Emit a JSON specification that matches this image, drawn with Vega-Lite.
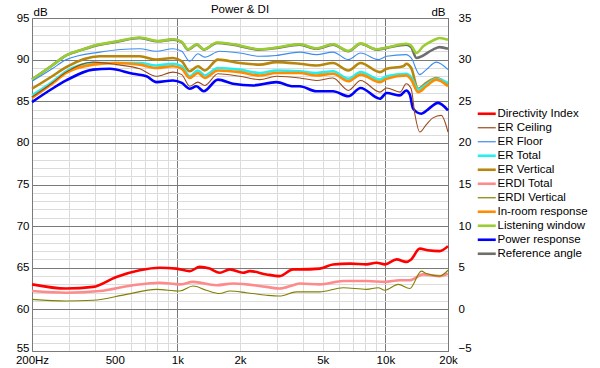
{
  "$schema": "https://vega.github.io/schema/vega-lite/v6.json",
  "autosize": "none",
  "width": 416,
  "height": 333,
  "padding": {"left": 32, "top": 18, "right": 152, "bottom": 17},
  "background": "white",
  "title": {"text": "Power & DI", "fontSize": 11.5, "fontWeight": "normal", "font": "Liberation Sans", "color": "#000", "offset": -9, "anchor": "middle"},
  "config": {
    "view": {"stroke": "#7a7a7a"},
    "axis": {"labelFont": "Liberation Sans", "labelFontSize": 11.5, "labelColor": "#000", "ticks": false, "domainColor": "#7a7a7a", "titleFont": "Liberation Sans", "titleFontSize": 11.5, "titleFontWeight": "normal", "titleColor": "#000"}
  },
  "datasets": {
    "spl": [
      {"s":"Reference angle","f":200,"v":87.6},{"s":"Reference angle","f":250,"v":89.3},{"s":"Reference angle","f":292,"v":90.5},{"s":"Reference angle","f":350,"v":91.2},{"s":"Reference angle","f":423,"v":91.8},{"s":"Reference angle","f":500,"v":92.1},{"s":"Reference angle","f":659,"v":92.6},{"s":"Reference angle","f":807,"v":92.2},{"s":"Reference angle","f":952,"v":92.4},{"s":"Reference angle","f":1050,"v":92.1},{"s":"Reference angle","f":1124,"v":91.2},{"s":"Reference angle","f":1240,"v":91.8},{"s":"Reference angle","f":1340,"v":91.2},{"s":"Reference angle","f":1550,"v":92.0},{"s":"Reference angle","f":1850,"v":91.8},{"s":"Reference angle","f":2490,"v":91.2},{"s":"Reference angle","f":2990,"v":91.4},{"s":"Reference angle","f":3870,"v":91.8},{"s":"Reference angle","f":4660,"v":91.3},{"s":"Reference angle","f":5600,"v":91.8},{"s":"Reference angle","f":6640,"v":91.0},{"s":"Reference angle","f":7600,"v":91.9},{"s":"Reference angle","f":9060,"v":91.2},{"s":"Reference angle","f":10140,"v":91.4},{"s":"Reference angle","f":12600,"v":91.8},{"s":"Reference angle","f":13300,"v":91.5},{"s":"Reference angle","f":14100,"v":90.2},{"s":"Reference angle","f":16930,"v":91.2},{"s":"Reference angle","f":18230,"v":91.5},{"s":"Reference angle","f":20000,"v":91.3},
      {"s":"Listening window","f":200,"v":87.6},{"s":"Listening window","f":250,"v":89.3},{"s":"Listening window","f":292,"v":90.5},{"s":"Listening window","f":350,"v":91.22},{"s":"Listening window","f":423,"v":91.84},{"s":"Listening window","f":500,"v":92.14},{"s":"Listening window","f":659,"v":92.65},{"s":"Listening window","f":807,"v":92.24},{"s":"Listening window","f":952,"v":92.45},{"s":"Listening window","f":1050,"v":92.14},{"s":"Listening window","f":1124,"v":91.24},{"s":"Listening window","f":1240,"v":91.85},{"s":"Listening window","f":1340,"v":91.24},{"s":"Listening window","f":1550,"v":92.05},{"s":"Listening window","f":1850,"v":91.85},{"s":"Listening window","f":2490,"v":91.24},{"s":"Listening window","f":2990,"v":91.45},{"s":"Listening window","f":3870,"v":91.85},{"s":"Listening window","f":4660,"v":91.35},{"s":"Listening window","f":5600,"v":91.85},{"s":"Listening window","f":6640,"v":91.05},{"s":"Listening window","f":7600,"v":91.95},{"s":"Listening window","f":9060,"v":91.25},{"s":"Listening window","f":10140,"v":91.45},{"s":"Listening window","f":12600,"v":91.9},{"s":"Listening window","f":13300,"v":91.7},{"s":"Listening window","f":14100,"v":90.8},{"s":"Listening window","f":15200,"v":91.6},{"s":"Listening window","f":16930,"v":92.3},{"s":"Listening window","f":18230,"v":92.6},{"s":"Listening window","f":20000,"v":92.4},
      {"s":"ER Floor","f":200,"v":87.4},{"s":"ER Floor","f":250,"v":88.9},{"s":"ER Floor","f":292,"v":90.0},{"s":"ER Floor","f":423,"v":90.9},{"s":"ER Floor","f":659,"v":91.3},{"s":"ER Floor","f":792,"v":91.0},{"s":"ER Floor","f":952,"v":91.3},{"s":"ER Floor","f":1050,"v":91.0},{"s":"ER Floor","f":1146,"v":89.8},{"s":"ER Floor","f":1256,"v":90.7},{"s":"ER Floor","f":1353,"v":90.3},{"s":"ER Floor","f":1597,"v":91.0},{"s":"ER Floor","f":1993,"v":90.8},{"s":"ER Floor","f":2490,"v":90.4},{"s":"ER Floor","f":2990,"v":90.5},{"s":"ER Floor","f":3870,"v":90.9},{"s":"ER Floor","f":4660,"v":90.6},{"s":"ER Floor","f":5600,"v":90.9},{"s":"ER Floor","f":6640,"v":90.0},{"s":"ER Floor","f":7600,"v":90.8},{"s":"ER Floor","f":9230,"v":90.0},{"s":"ER Floor","f":10140,"v":90.4},{"s":"ER Floor","f":12600,"v":90.6},{"s":"ER Floor","f":13300,"v":90.2},{"s":"ER Floor","f":14630,"v":88.2},{"s":"ER Floor","f":15730,"v":88.8},{"s":"ER Floor","f":17570,"v":89.7},{"s":"ER Floor","f":20000,"v":88.8},
      {"s":"ER Vertical","f":200,"v":86.5},{"s":"ER Vertical","f":250,"v":88.0},{"s":"ER Vertical","f":292,"v":89.1},{"s":"ER Vertical","f":423,"v":90.4},{"s":"ER Vertical","f":659,"v":90.4},{"s":"ER Vertical","f":792,"v":90.0},{"s":"ER Vertical","f":952,"v":90.2},{"s":"ER Vertical","f":1050,"v":89.8},{"s":"ER Vertical","f":1146,"v":88.6},{"s":"ER Vertical","f":1256,"v":89.2},{"s":"ER Vertical","f":1353,"v":88.7},{"s":"ER Vertical","f":1567,"v":90.0},{"s":"ER Vertical","f":1993,"v":89.6},{"s":"ER Vertical","f":2490,"v":89.4},{"s":"ER Vertical","f":2990,"v":89.7},{"s":"ER Vertical","f":3870,"v":89.5},{"s":"ER Vertical","f":4660,"v":89.3},{"s":"ER Vertical","f":5600,"v":89.6},{"s":"ER Vertical","f":6640,"v":88.7},{"s":"ER Vertical","f":7600,"v":89.6},{"s":"ER Vertical","f":9410,"v":88.5},{"s":"ER Vertical","f":10140,"v":88.9},{"s":"ER Vertical","f":12200,"v":89.2},{"s":"ER Vertical","f":12600,"v":89.5},{"s":"ER Vertical","f":13300,"v":89.0},{"s":"ER Vertical","f":14370,"v":86.5},{"s":"ER Vertical","f":15730,"v":87.2},{"s":"ER Vertical","f":17570,"v":87.8},{"s":"ER Vertical","f":18560,"v":87.6},{"s":"ER Vertical","f":20000,"v":86.9},
      {"s":"ER Total","f":200,"v":85.7},{"s":"ER Total","f":250,"v":87.3},{"s":"ER Total","f":292,"v":88.6},{"s":"ER Total","f":393,"v":89.6},{"s":"ER Total","f":659,"v":89.6},{"s":"ER Total","f":792,"v":89.3},{"s":"ER Total","f":952,"v":89.5},{"s":"ER Total","f":1050,"v":89.2},{"s":"ER Total","f":1146,"v":88.0},{"s":"ER Total","f":1256,"v":88.7},{"s":"ER Total","f":1353,"v":88.1},{"s":"ER Total","f":1567,"v":89.0},{"s":"ER Total","f":1993,"v":88.8},{"s":"ER Total","f":2490,"v":88.4},{"s":"ER Total","f":2990,"v":88.7},{"s":"ER Total","f":3870,"v":88.6},{"s":"ER Total","f":4660,"v":88.4},{"s":"ER Total","f":5600,"v":88.6},{"s":"ER Total","f":6640,"v":87.7},{"s":"ER Total","f":7600,"v":88.5},{"s":"ER Total","f":9410,"v":87.6},{"s":"ER Total","f":10140,"v":88.0},{"s":"ER Total","f":12600,"v":88.3},{"s":"ER Total","f":13300,"v":87.9},{"s":"ER Total","f":14370,"v":86.4},{"s":"ER Total","f":15730,"v":87.0},{"s":"ER Total","f":17570,"v":87.7},{"s":"ER Total","f":20000,"v":87.2},
      {"s":"In-room response","f":200,"v":85.4},{"s":"In-room response","f":250,"v":87.1},{"s":"In-room response","f":292,"v":88.4},{"s":"In-room response","f":393,"v":89.4},{"s":"In-room response","f":510,"v":89.6},{"s":"In-room response","f":659,"v":89.4},{"s":"In-room response","f":792,"v":89.0},{"s":"In-room response","f":952,"v":89.2},{"s":"In-room response","f":1050,"v":88.9},{"s":"In-room response","f":1146,"v":87.8},{"s":"In-room response","f":1256,"v":88.4},{"s":"In-room response","f":1353,"v":87.8},{"s":"In-room response","f":1567,"v":88.7},{"s":"In-room response","f":1993,"v":88.5},{"s":"In-room response","f":2490,"v":88.1},{"s":"In-room response","f":2990,"v":88.4},{"s":"In-room response","f":3870,"v":88.4},{"s":"In-room response","f":4660,"v":88.1},{"s":"In-room response","f":5600,"v":88.3},{"s":"In-room response","f":6640,"v":87.4},{"s":"In-room response","f":7600,"v":88.2},{"s":"In-room response","f":9410,"v":87.3},{"s":"In-room response","f":10140,"v":87.7},{"s":"In-room response","f":12600,"v":88.1},{"s":"In-room response","f":13300,"v":87.6},{"s":"In-room response","f":14370,"v":86.1},{"s":"In-room response","f":15730,"v":86.8},{"s":"In-room response","f":17570,"v":87.6},{"s":"In-room response","f":20000,"v":86.8},
      {"s":"ER Ceiling","f":200,"v":85.5},{"s":"ER Ceiling","f":250,"v":87.2},{"s":"ER Ceiling","f":292,"v":88.5},{"s":"ER Ceiling","f":393,"v":89.7},{"s":"ER Ceiling","f":509,"v":89.4},{"s":"ER Ceiling","f":659,"v":88.9},{"s":"ER Ceiling","f":792,"v":88.0},{"s":"ER Ceiling","f":952,"v":88.5},{"s":"ER Ceiling","f":1050,"v":88.2},{"s":"ER Ceiling","f":1146,"v":86.8},{"s":"ER Ceiling","f":1256,"v":87.3},{"s":"ER Ceiling","f":1353,"v":86.9},{"s":"ER Ceiling","f":1567,"v":88.3},{"s":"ER Ceiling","f":1993,"v":88.0},{"s":"ER Ceiling","f":2490,"v":87.6},{"s":"ER Ceiling","f":2990,"v":88.0},{"s":"ER Ceiling","f":3870,"v":87.8},{"s":"ER Ceiling","f":4660,"v":87.5},{"s":"ER Ceiling","f":5600,"v":87.8},{"s":"ER Ceiling","f":6640,"v":86.3},{"s":"ER Ceiling","f":7600,"v":87.5},{"s":"ER Ceiling","f":9410,"v":86.1},{"s":"ER Ceiling","f":10140,"v":86.6},{"s":"ER Ceiling","f":11760,"v":86.1},{"s":"ER Ceiling","f":12600,"v":87.1},{"s":"ER Ceiling","f":13300,"v":86.5},{"s":"ER Ceiling","f":13850,"v":83.5},{"s":"ER Ceiling","f":14630,"v":81.3},{"s":"ER Ceiling","f":15730,"v":82.2},{"s":"ER Ceiling","f":16930,"v":83.0},{"s":"ER Ceiling","f":18560,"v":83.3},{"s":"ER Ceiling","f":20000,"v":81.3},
      {"s":"Power response","f":200,"v":84.9},{"s":"Power response","f":250,"v":86.5},{"s":"Power response","f":292,"v":87.5},{"s":"Power response","f":393,"v":88.8},{"s":"Power response","f":473,"v":88.9},{"s":"Power response","f":612,"v":88.3},{"s":"Power response","f":710,"v":88.0},{"s":"Power response","f":792,"v":87.3},{"s":"Power response","f":952,"v":87.5},{"s":"Power response","f":1050,"v":87.2},{"s":"Power response","f":1146,"v":86.5},{"s":"Power response","f":1234,"v":86.8},{"s":"Power response","f":1338,"v":86.2},{"s":"Power response","f":1567,"v":87.6},{"s":"Power response","f":1850,"v":87.1},{"s":"Power response","f":2310,"v":86.9},{"s":"Power response","f":2990,"v":87.3},{"s":"Power response","f":3600,"v":86.8},{"s":"Power response","f":3870,"v":86.8},{"s":"Power response","f":4660,"v":86.2},{"s":"Power response","f":5600,"v":86.2},{"s":"Power response","f":6640,"v":85.6},{"s":"Power response","f":7600,"v":86.6},{"s":"Power response","f":9410,"v":85.3},{"s":"Power response","f":10140,"v":86.0},{"s":"Power response","f":11760,"v":85.7},{"s":"Power response","f":12600,"v":86.3},{"s":"Power response","f":13100,"v":85.8},{"s":"Power response","f":13600,"v":84.1},{"s":"Power response","f":14900,"v":83.5},{"s":"Power response","f":16000,"v":84.0},{"s":"Power response","f":17900,"v":84.8},{"s":"Power response","f":20000,"v":83.9}
    ],
    "di": [
      {"s":"Directivity Index","f":200,"v":3.0},{"s":"Directivity Index","f":292,"v":2.5},{"s":"Directivity Index","f":393,"v":2.7},{"s":"Directivity Index","f":509,"v":3.9},{"s":"Directivity Index","f":659,"v":4.7},{"s":"Directivity Index","f":822,"v":5.0},{"s":"Directivity Index","f":989,"v":4.9},{"s":"Directivity Index","f":1146,"v":4.6},{"s":"Directivity Index","f":1280,"v":5.1},{"s":"Directivity Index","f":1430,"v":4.9},{"s":"Directivity Index","f":1597,"v":4.4},{"s":"Directivity Index","f":1785,"v":4.8},{"s":"Directivity Index","f":2067,"v":4.4},{"s":"Directivity Index","f":2227,"v":4.6},{"s":"Directivity Index","f":2678,"v":4.2},{"s":"Directivity Index","f":3104,"v":4.0},{"s":"Directivity Index","f":3600,"v":4.8},{"s":"Directivity Index","f":3874,"v":4.8},{"s":"Directivity Index","f":4835,"v":4.9},{"s":"Directivity Index","f":5600,"v":5.4},{"s":"Directivity Index","f":6770,"v":5.5},{"s":"Directivity Index","f":8120,"v":5.4},{"s":"Directivity Index","f":9060,"v":5.6},{"s":"Directivity Index","f":9950,"v":5.4},{"s":"Directivity Index","f":11330,"v":6.0},{"s":"Directivity Index","f":12600,"v":5.7},{"s":"Directivity Index","f":13300,"v":6.0},{"s":"Directivity Index","f":14630,"v":7.3},{"s":"Directivity Index","f":16000,"v":7.1},{"s":"Directivity Index","f":18230,"v":7.0},{"s":"Directivity Index","f":20000,"v":7.6},
      {"s":"ERDI Total","f":200,"v":2.2},{"s":"ERDI Total","f":292,"v":2.0},{"s":"ERDI Total","f":423,"v":2.2},{"s":"ERDI Total","f":612,"v":2.9},{"s":"ERDI Total","f":822,"v":3.2},{"s":"ERDI Total","f":1026,"v":3.0},{"s":"ERDI Total","f":1189,"v":3.3},{"s":"ERDI Total","f":1540,"v":2.9},{"s":"ERDI Total","f":1850,"v":3.1},{"s":"ERDI Total","f":2678,"v":2.7},{"s":"ERDI Total","f":3104,"v":2.5},{"s":"ERDI Total","f":3600,"v":2.9},{"s":"ERDI Total","f":3874,"v":3.1},{"s":"ERDI Total","f":4835,"v":3.0},{"s":"ERDI Total","f":6270,"v":3.4},{"s":"ERDI Total","f":8120,"v":3.4},{"s":"ERDI Total","f":9950,"v":3.3},{"s":"ERDI Total","f":11760,"v":3.5},{"s":"ERDI Total","f":13100,"v":3.5},{"s":"ERDI Total","f":15160,"v":4.2},{"s":"ERDI Total","f":18230,"v":4.0},{"s":"ERDI Total","f":20000,"v":4.3},
      {"s":"ERDI Vertical","f":200,"v":1.2},{"s":"ERDI Vertical","f":292,"v":1.0},{"s":"ERDI Vertical","f":393,"v":1.1},{"s":"ERDI Vertical","f":569,"v":1.8},{"s":"ERDI Vertical","f":792,"v":2.4},{"s":"ERDI Vertical","f":1026,"v":2.2},{"s":"ERDI Vertical","f":1189,"v":2.8},{"s":"ERDI Vertical","f":1378,"v":2.3},{"s":"ERDI Vertical","f":1597,"v":1.9},{"s":"ERDI Vertical","f":1785,"v":2.2},{"s":"ERDI Vertical","f":2146,"v":2.0},{"s":"ERDI Vertical","f":2678,"v":1.7},{"s":"ERDI Vertical","f":3104,"v":1.6},{"s":"ERDI Vertical","f":3733,"v":2.1},{"s":"ERDI Vertical","f":4835,"v":2.1},{"s":"ERDI Vertical","f":6270,"v":2.6},{"s":"ERDI Vertical","f":8120,"v":2.4},{"s":"ERDI Vertical","f":9230,"v":2.6},{"s":"ERDI Vertical","f":9950,"v":2.3},{"s":"ERDI Vertical","f":11540,"v":3.0},{"s":"ERDI Vertical","f":13100,"v":2.5},{"s":"ERDI Vertical","f":14900,"v":4.6},{"s":"ERDI Vertical","f":15730,"v":4.3},{"s":"ERDI Vertical","f":18230,"v":4.0},{"s":"ERDI Vertical","f":20000,"v":4.7}
    ]
  },
  "encoding": {
    "x": {
      "field": "f", "type": "quantitative",
      "scale": {"type": "log", "domain": [200, 20000], "nice": false},
      "axis": {
        "title": null,
        "values": [200, 300, 400, 500, 600, 700, 800, 900, 1000, 2000, 3000, 4000, 5000, 6000, 7000, 8000, 9000, 10000, 20000],
        "labelExpr": "datum.value == 200 ? '200Hz' : datum.value == 500 ? '500' : datum.value == 1000 ? '1k' : datum.value == 2000 ? '2k' : datum.value == 5000 ? '5k' : datum.value == 10000 ? '10k' : datum.value == 20000 ? '20k' : ''",
        "labelPadding": 3,
        "labelFlush": false,
        "labelOverlap": false,
        "grid": true,
        "gridColor": {"condition": {"test": "datum.value == 1000 || datum.value == 10000 || datum.value == 20000", "value": "#7a7a7a"}, "value": "#dcdcdc"}
      }
    },
    "color": {
      "field": "s", "type": "nominal",
      "scale": {
        "domain": ["Directivity Index", "ER Ceiling", "ER Floor", "ER Total", "ER Vertical", "ERDI Total", "ERDI Vertical", "In-room response", "Listening window", "Power response", "Reference angle"],
        "range": ["#ff0000", "#9a4a1c", "#3a8cf0", "#22f0f0", "#b8860b", "#ff8a8a", "#808000", "#ff8c00", "#9acd32", "#0000ff", "#6e6e6e"]
      },
      "legend": {
        "orient": "none", "legendX": 449, "legendY": 90, "title": null, "padding": 0,
        "symbolType": "stroke", "symbolSize": 324, "symbolStrokeWidth": 2.5,
        "labelFont": "Liberation Sans", "labelFontSize": 11.5, "labelColor": "#000", "labelOffset": 5,
        "rowPadding": 1, "labelLimit": 200,
        "encode": {"symbols": {"update": {"strokeWidth": {"signal": "indexof(['ER Ceiling','ER Floor','ERDI Vertical'], datum.value) >= 0 ? 1.2 : 2.6"}}}}
      }
    }
  },
  "layer": [
    {
      "data": {"name": "spl"},
      "encoding": {
        "y": {
          "field": "v", "type": "quantitative",
          "scale": {"domain": [55, 95], "nice": false, "zero": false},
          "axis": {
            "orient": "left",
            "values": [55,56,57,58,59,60,61,62,63,64,65,66,67,68,69,70,71,72,73,74,75,76,77,78,79,80,81,82,83,84,85,86,87,88,89,90,91,92,93,94,95],
            "labelExpr": "datum.value % 5 == 0 ? datum.label : ''",
            "labelPadding": 3,
            "labelOverlap": false,
            "labelFlush": false,
            "labelBaseline": {"condition": {"test": "datum.value == 55", "value": "alphabetic"}, "value": "middle"},
            "grid": true,
            "gridColor": {"condition": {"test": "datum.value % 5 == 0", "value": "#7a7a7a"}, "value": "#dcdcdc"},
            "title": "dB", "titleAngle": 0, "titleAlign": "left", "titleBaseline": "alphabetic", "titleX": 1, "titleY": -3
          }
        }
      },
      "layer": [
        {
          "transform": [{"filter": "indexof(['ER Ceiling','ER Floor'], datum.s) < 0"}],
          "mark": {"type": "line", "interpolate": "monotone", "strokeWidth": 2.6}
        },
        {
          "transform": [{"filter": "indexof(['ER Ceiling','ER Floor'], datum.s) >= 0"}],
          "mark": {"type": "line", "interpolate": "monotone", "strokeWidth": 1.1}
        }
      ]
    },
    {
      "data": {"name": "di"},
      "encoding": {
        "y": {
          "field": "v", "type": "quantitative",
          "scale": {"domain": [-5, 35], "nice": false, "zero": false},
          "axis": {
            "orient": "right",
            "values": [-5, 0, 5, 10, 15, 20, 25, 30, 35],
            "labelPadding": 10,
            "labelFlush": false,
            "labelBaseline": {"condition": {"test": "datum.value == -5", "value": "alphabetic"}, "value": "middle"},
            "grid": false,
            "title": "dB", "titleAngle": 0, "titleAlign": "right", "titleBaseline": "alphabetic", "titleX": -3, "titleY": -3
          }
        }
      },
      "layer": [
        {
          "transform": [{"filter": "datum.s != 'ERDI Vertical'"}],
          "mark": {"type": "line", "interpolate": "monotone", "strokeWidth": 2.6}
        },
        {
          "transform": [{"filter": "datum.s == 'ERDI Vertical'"}],
          "mark": {"type": "line", "interpolate": "monotone", "strokeWidth": 1.1}
        }
      ]
    }
  ],
  "resolve": {"scale": {"y": "independent"}, "axis": {"y": "independent"}}
}
